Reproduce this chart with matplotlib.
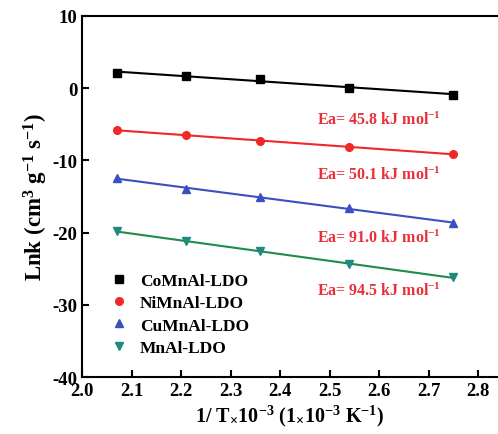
import numpy as np
import matplotlib
matplotlib.use("Agg")
import matplotlib.pyplot as plt

plt.rcParams['font.family'] = ['Liberation Serif', 'DejaVu Serif']
plt.rcParams['font.weight'] = 'bold'
plt.rcParams['mathtext.fontset'] = 'custom'
plt.rcParams['mathtext.rm'] = 'Liberation Serif:bold'
plt.rcParams['mathtext.it'] = 'Liberation Serif:bold:italic'
plt.rcParams['mathtext.bf'] = 'Liberation Serif:bold'
plt.rcParams['axes.unicode_minus'] = False

x = [2.07, 2.21, 2.36, 2.54, 2.75]
co = [2.1, 1.7, 1.3, 0.0, -0.9]
ni = [-5.8, -6.5, -7.3, -8.2, -9.1]
cu = [-12.5, -13.9, -15.1, -16.6, -18.7]
mn = [-19.8, -21.2, -22.6, -24.4, -26.2]
labels = ['CoMnAl-LDO', 'NiMnAl-LDO', 'CuMnAl-LDO', 'MnAl-LDO']
ea_text = ['Ea= 45.8 kJ mol$^{-1}$', 'Ea= 50.1 kJ mol$^{-1}$',
           'Ea= 91.0 kJ mol$^{-1}$', 'Ea= 94.5 kJ mol$^{-1}$']
ea_y = [-4.3, -11.9, -20.6, -28.0]

series = [co, ni, cu, mn]
mcolors = ['#000000', '#f02828', '#3a4fc0', '#1f8a80']
lcolors = ['#000000', '#f02828', '#3a4fc0', '#1e8c4a']
markers = ['s', 'o', '^', 'v']

fig = plt.figure(figsize=(4.98, 4.35), dpi=100)
ax = fig.add_axes([0.165, 0.131, 0.835, 0.830])
xa = np.array(x)
for ys, mc, lc, m, lab in zip(series, mcolors, lcolors, markers, labels):
    p = np.polyfit(xa, ys, 1)
    ax.plot([xa[0], xa[-1]], np.polyval(p, [xa[0], xa[-1]]), color=lc, lw=1.5, zorder=2)
    ax.plot(xa, ys, linestyle='none', marker=m, color=mc, ms=5.5, label=lab, zorder=3)

for t, yy in zip(ea_text, ea_y):
    ax.text(2.474, yy, t, color='#e8303a', fontsize=11.5, fontweight='bold', va='center', ha='left')

ax.set_xlim(2.0, 2.84)
ax.set_ylim(-40, 10)
ax.set_xticks([2.0, 2.1, 2.2, 2.3, 2.4, 2.5, 2.6, 2.7, 2.8])
ax.set_yticks([-40, -30, -20, -10, 0, 10])
ax.tick_params(direction='in', length=5, width=1.5, labelsize=13.5, top=False, right=False)
for lab in ax.get_xticklabels() + ax.get_yticklabels():
    lab.set_fontweight('bold')
ax.spines['right'].set_visible(False)
for s in ['left', 'bottom', 'top']:
    ax.spines[s].set_linewidth(1.5)

ax.set_xlabel(r'1/ T$_{\times}$10$^{-3}$ (1$_{\times}$10$^{-3}$ K$^{-1}$)', fontsize=14.5, fontweight='bold', labelpad=3)
ax.set_ylabel(r'Lnk (cm$^{3}$ g$^{-1}$ s$^{-1}$)', fontsize=16.5, fontweight='bold', labelpad=2)

leg = ax.legend(loc='lower left', bbox_to_anchor=(0.03, 0.015), frameon=False,
                prop={'family': 'Liberation Serif', 'weight': 'bold', 'size': 12.5},
                handletextpad=0.7, labelspacing=0.36, handlelength=1.0)

fig.savefig('out.png', dpi=100)
